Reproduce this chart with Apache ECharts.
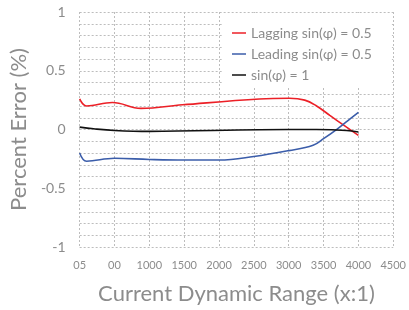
<!DOCTYPE html>
<html>
<head>
<meta charset="utf-8">
<script src="https://cdn.jsdelivr.net/npm/echarts@6/dist/echarts.min.js"></script>
<style>
  html, body { margin: 0; padding: 0; background: #fff; }
  #chart { width: 409px; height: 310px; }
</style>
</head>
<body>
<div id="chart"></div>
<script>
// 数据
var seriesNames = ['Lagging sin(φ) = 0.5', 'Leading sin(φ) = 0.5', 'sin(φ) = 1'];
var laggingX = [0, 100, 470, 880, 1475, 2580, 3010, 3230, 3400, 3590, 3830, 4000];
var laggingY = [0.26, 0.20, 0.23, 0.18, 0.21, 0.26, 0.266, 0.25, 0.20, 0.12, 0.02, -0.05];
var leadingX = [0, 100, 500, 1000, 1500, 2000, 2500, 3000, 3350, 3500, 3700, 3850, 4000];
var leadingY = [-0.20, -0.27, -0.245, -0.255, -0.26, -0.26, -0.23, -0.18, -0.134, -0.078, 0.006, 0.076, 0.146];
var unityX = [0, 200, 500, 1000, 2580, 3400, 3830, 4000];
var unityY = [0.02, 0.006, -0.008, -0.016, -0.002, 0, -0.008, -0.022];
var xTickText = {0: '05', 500: '00'};

function pairs(xs, ys) {
    return xs.map(function (x, i) { return [x, ys[i]]; });
}

var myChart = echarts.init(document.getElementById('chart'));
var font = 'Lato';
var grey = '#8c8c8c';

var option = {
    animation: false,
    textStyle: { fontFamily: font },
    grid: { left: 78, right: 15, top: 12, bottom: 60 },
    legend: {
        orient: 'vertical',
        left: 222,
        top: 13,
        backgroundColor: '#fff',
        padding: [13, 20, 6, 10],
        itemGap: 7,
        itemWidth: 14,
        itemHeight: 1.5,
        icon: 'rect',
        textStyle: { color: grey, fontSize: 14, fontFamily: font, lineHeight: 13 },
        data: seriesNames
    },
    xAxis: {
        type: 'value',
        min: 0,
        max: 4500,
        interval: 500,
        name: 'Current Dynamic Range (x:1)',
        nameLocation: 'middle',
        nameGap: 36,
        nameTextStyle: { color: grey, fontSize: 22 },
        axisLine: { show: false },
        axisTick: { show: false },
        axisLabel: {
            color: grey,
            fontSize: 11,
            margin: 13,
            formatter: function (v) { return xTickText[v] !== undefined ? xTickText[v] : String(v); }
        },
        splitLine: { show: true, lineStyle: { color: '#bdbdbd', type: [2, 2] } }
    },
    yAxis: {
        type: 'value',
        min: -1,
        max: 1,
        interval: 0.1,
        name: 'Percent Error (%)',
        nameLocation: 'middle',
        nameGap: 36,
        nameTextStyle: { color: grey, fontSize: 22 },
        axisLine: { show: false },
        axisTick: { show: false },
        axisLabel: {
            color: grey,
            fontSize: 14,
            margin: 14,
            formatter: function (v) {
                var h = v * 2;
                if (Math.abs(h - Math.round(h)) > 1e-6) return '';
                var r = Math.round(h) / 2;
                return String(r);
            }
        },
        splitLine: { show: true, lineStyle: { color: '#bdbdbd', type: [2, 2] } }
    },
    series: [
        {
            name: seriesNames[0],
            type: 'line',
            smooth: 0.4,
            symbol: 'none',
            color: '#ec2027',
            lineStyle: { width: 1.6 },
            data: pairs(laggingX, laggingY)
        },
        {
            name: seriesNames[1],
            type: 'line',
            smooth: 0.4,
            symbol: 'none',
            color: '#3b5daa',
            lineStyle: { width: 1.6 },
            data: pairs(leadingX, leadingY)
        },
        {
            name: seriesNames[2],
            type: 'line',
            smooth: 0.4,
            symbol: 'none',
            color: '#111111',
            lineStyle: { width: 1.6 },
            data: pairs(unityX, unityY)
        }
    ]
};

myChart.setOption(option);
</script>
</body>
</html>
